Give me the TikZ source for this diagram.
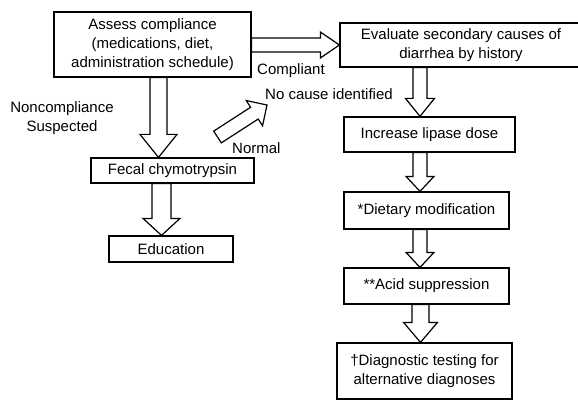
\documentclass[tikz,border=0pt]{standalone}
\usepackage{fontspec}
\setmainfont{Liberation Sans}
\usetikzlibrary{calc}
\tikzset{
 box/.style={draw, line width=1.2pt, inner sep=0pt, align=center, font=\fontsize{15}{19}\selectfont},
 lbl/.style={inner sep=0pt, align=center, font=\fontsize{15}{19}\selectfont},
 blk/.style={draw, fill=white, line width=1.2pt, line join=miter},
}
% #1 start, #2 end, #3 shaft half width, #4 head half width, #5 head length
\newcommand\barrow[5]{%
 \coordinate (ba) at #1;
 \coordinate (bb) at #2;
 \coordinate (bh) at ($(bb)!#5!(ba)$);
 \draw[blk] ($(ba)!#3!90:(bb)$) -- ($(bh)!#3!90:(bb)$) -- ($(bh)!#4!90:(bb)$) -- (bb)
   -- ($(bh)!#4!-90:(bb)$) -- ($(bh)!#3!-90:(bb)$) -- ($(ba)!#3!-90:(bb)$) -- cycle;
}
\begin{document}
\begin{tikzpicture}[x=1pt,y=-1pt]
\clip (0,0) rectangle (578,401);
\fill[white] (0,0) rectangle (578,401);
% boxes
\node[box, minimum width=197pt, minimum height=65pt] (a) at (152.5,44.5) {Assess compliance\\(medications, diet,\\administration schedule)};
\node[box, minimum width=242pt, minimum height=44pt] (b) at (461,45) {Evaluate secondary causes of\\diarrhea by history};
\node[box, minimum width=163pt, minimum height=25pt] (f) at (172.5,170.5) {Fecal chymotrypsin};
\node[box, minimum width=124pt, minimum height=26pt] (e) at (171,249) {Education};
\node[box, minimum width=171pt, minimum height=35pt] (c3) at (429.5,134.5) {Increase lipase dose};
\node[box, minimum width=165pt, minimum height=37pt] (c4) at (426.5,210.5) {*Dietary modification};
\node[box, minimum width=165pt, minimum height=36pt] (c5) at (426.5,286) {**Acid suppression};
\node[box, minimum width=175pt, minimum height=56pt] (c6) at (424.5,371) {\textdagger Diagnostic testing for\\alternative diagnoses};
% labels
\node[lbl, anchor=west] (l1) at (257,71) {Compliant};
\node[lbl, anchor=west] (l2) at (265,94) {No cause identified};
\node[lbl] (l3) at (62,118) {Noncompliance\\Suspected};
\node[lbl, anchor=west] (l4) at (232,148) {Normal};
% helper coordinates
\coordinate (xa) at (158.5,0);
\coordinate (xf) at (161.5,0);
\coordinate (xr) at (420,0);
\coordinate (xs) at (420.5,0);
\coordinate (ya) at (0,45);
\coordinate (dtail) at (217.5,137);
\coordinate (dtip) at (267,105);
% arrows
\barrow{(a.east |- ya)}{(b.west |- ya)}{7pt}{13pt}{19pt}
\barrow{(a.south -| xa)}{(f.north -| xa)}{8.5pt}{18.5pt}{23pt}
\barrow{(f.south -| xf)}{(e.north -| xf)}{9.5pt}{18.5pt}{17pt}
\barrow{(b.south -| xr)}{(c3.north -| xr)}{7pt}{14.5pt}{18pt}
\barrow{(c3.south -| xr)}{(c4.north -| xr)}{7pt}{14pt}{15pt}
\barrow{(c4.south -| xr)}{(c5.north -| xr)}{7pt}{14pt}{15pt}
\barrow{(c5.south -| xs)}{(c6.north -| xs)}{8.5pt}{17pt}{20pt}
\barrow{(dtail)}{(dtip)}{7pt}{15pt}{15pt}
\end{tikzpicture}
\end{document}
